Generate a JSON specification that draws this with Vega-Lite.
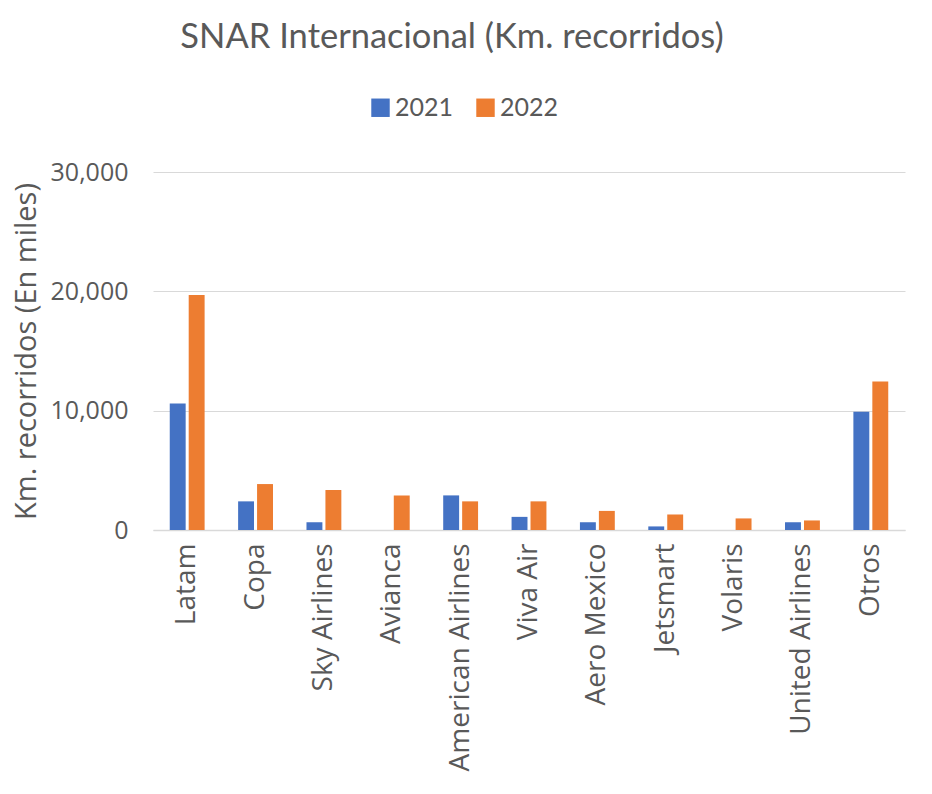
{
  "$schema": "https://vega.github.io/schema/vega-lite/v6.json",
  "autosize": {"type": "none"},
  "padding": {"left": 153, "top": 172, "right": 27, "bottom": 264},
  "width": 752,
  "height": 358,
  "background": "#ffffff",
  "title": {
    "text": "SNAR Internacional (Km. recorridos)",
    "font": "Lato",
    "fontSize": 34.5,
    "fontWeight": "normal",
    "color": "#595959",
    "anchor": "middle",
    "baseline": "alphabetic",
    "dx": -77,
    "offset": 13
  },
  "data": {
    "values": [
      {"aerolinea": "Latam", "anio": "2021", "km": 10600},
      {"aerolinea": "Latam", "anio": "2022", "km": 19700},
      {"aerolinea": "Copa", "anio": "2021", "km": 2400},
      {"aerolinea": "Copa", "anio": "2022", "km": 3850},
      {"aerolinea": "Sky Airlines", "anio": "2021", "km": 650},
      {"aerolinea": "Sky Airlines", "anio": "2022", "km": 3350},
      {"aerolinea": "Avianca", "anio": "2021", "km": 0},
      {"aerolinea": "Avianca", "anio": "2022", "km": 2900},
      {"aerolinea": "American Airlines", "anio": "2021", "km": 2900},
      {"aerolinea": "American Airlines", "anio": "2022", "km": 2400},
      {"aerolinea": "Viva Air", "anio": "2021", "km": 1100},
      {"aerolinea": "Viva Air", "anio": "2022", "km": 2400},
      {"aerolinea": "Aero Mexico", "anio": "2021", "km": 650},
      {"aerolinea": "Aero Mexico", "anio": "2022", "km": 1600},
      {"aerolinea": "Jetsmart", "anio": "2021", "km": 300},
      {"aerolinea": "Jetsmart", "anio": "2022", "km": 1300},
      {"aerolinea": "Volaris", "anio": "2021", "km": 0},
      {"aerolinea": "Volaris", "anio": "2022", "km": 970},
      {"aerolinea": "United Airlines", "anio": "2021", "km": 650},
      {"aerolinea": "United Airlines", "anio": "2022", "km": 800},
      {"aerolinea": "Otros", "anio": "2021", "km": 9900},
      {"aerolinea": "Otros", "anio": "2022", "km": 12450}
    ]
  },
  "mark": {"type": "bar"},
  "encoding": {
    "x": {
      "field": "aerolinea",
      "type": "nominal",
      "sort": null,
      "scale": {"paddingInner": 0.49, "paddingOuter": 0.245},
      "axis": {
        "title": null,
        "labelAngle": -90,
        "labelAlign": "right",
        "labelBaseline": "middle",
        "labelFont": "Open Sans",
        "labelFontSize": 28,
        "labelColor": "#595959",
        "labelPadding": 13,
        "labelLimit": 0,
        "ticks": false,
        "domainColor": "#d9d9d9",
        "domainWidth": 1.5,
        "grid": false
      }
    },
    "xOffset": {
      "field": "anio",
      "type": "nominal",
      "scale": {"paddingInner": 0.16, "paddingOuter": 0}
    },
    "y": {
      "field": "km",
      "type": "quantitative",
      "scale": {"domain": [0, 30000], "nice": false},
      "axis": {
        "title": "Km. recorridos (En miles)",
        "titleFont": "Open Sans",
        "titleFontSize": 29,
        "titleFontWeight": "normal",
        "titleColor": "#595959",
        "titleX": -118,
        "titleY": 179,
        "titleAngle": -90,
        "titleAlign": "center",
        "titleBaseline": "alphabetic",
        "values": [0, 10000, 20000, 30000],
        "format": ",.0f",
        "labelFont": "Open Sans",
        "labelFontSize": 25,
        "labelColor": "#595959",
        "labelPadding": 25,
        "ticks": false,
        "domain": false,
        "gridColor": "#d9d9d9",
        "gridWidth": 1
      }
    },
    "color": {
      "field": "anio",
      "type": "nominal",
      "scale": {"domain": ["2021", "2022"], "range": ["#4472C4", "#ED7D31"]},
      "legend": {
        "title": null,
        "orient": "none",
        "direction": "horizontal",
        "legendX": 215,
        "legendY": -77,
        "padding": 0,
        "symbolType": "square",
        "symbolSize": 340,
        "symbolStrokeWidth": 0,
        "labelFont": "Lato",
        "labelFontSize": 25,
        "labelColor": "#595959",
        "labelOffset": 2,
        "columnPadding": 19
      }
    }
  },
  "config": {
    "view": {"stroke": null}
  }
}
